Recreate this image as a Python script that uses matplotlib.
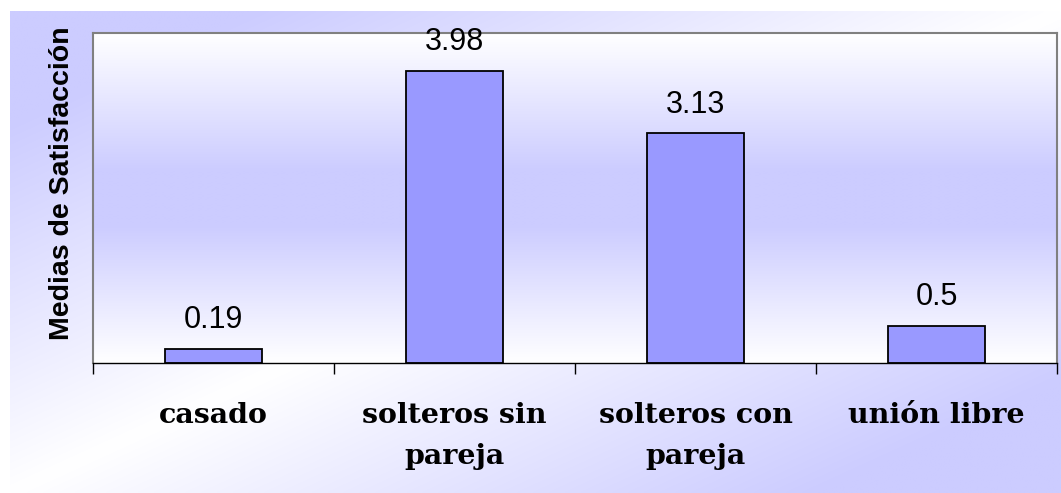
import numpy as np
import matplotlib
matplotlib.use("Agg")
import matplotlib.pyplot as plt
from matplotlib.colors import to_rgb

# ---------------------------------------------------------------------------
# Data
# ---------------------------------------------------------------------------
categories = ["casado", "solteros sin\npareja", "solteros con\npareja", "unión libre"]
values = [0.19, 3.98, 3.13, 0.5]
value_labels = ["0.19", "3.98", "3.13", "0.5"]
y_label = "Medias de Satisfacción"

LAVENDER = np.array(to_rgb("#ccccff"))
WHITE = np.array([1.0, 1.0, 1.0])
BAR_COLOR = "#9999ff"

W, H = 1061, 493
fig = plt.figure(figsize=(W / 100, H / 100), dpi=100)

# outer chart area: diagonal gradient, lavender at the two corners, white across
bg = fig.add_axes([10 / W, 0, 1 - 10 / W, (H - 11) / H], zorder=-10)
xx, yy = np.meshgrid(np.linspace(0, 1, 400), np.linspace(0, 1, 200))
t = np.clip(np.abs(xx + yy - 1.0) * 1.3, 0, 1)[..., None]
bg.imshow(WHITE * (1 - t) + LAVENDER * t, aspect="auto", interpolation="bilinear",
          extent=[0, 1, 1, 0])
bg.set_axis_off()

# plot area
left, right, top, bottom = 93, 1057, 33, 363
ax = fig.add_axes([left / W, 1 - bottom / H, (right - left) / W, (bottom - top) / H])
ax.set_xlim(0, len(categories))
ax.set_ylim(0, 4.5)

v = np.linspace(0, 1, 300)[:, None]
tv = np.clip((1 - np.abs(2 * v - 1)) * 1.2, 0, 1)[..., None] * np.ones((1, 2, 1))
ax.imshow(WHITE * (1 - tv) + LAVENDER * tv, aspect="auto", interpolation="bilinear",
          extent=[0, len(categories), 0, 4.5], zorder=0)

x = np.arange(len(categories)) + 0.5
ax.bar(x, values, width=0.4, color=BAR_COLOR, edgecolor="black", linewidth=1.3, zorder=2)
for xi, val, lab in zip(x, values, value_labels):
    ax.annotate(lab, (xi, val), xytext=(0, 10), textcoords="offset points",
                ha="center", va="bottom", fontsize=22, family="Liberation Sans",
                zorder=3)

for side in ("left", "top", "right"):
    ax.spines[side].set_color("#808080")
    ax.spines[side].set_linewidth(1.5)
ax.spines["bottom"].set_color("black")
ax.spines["bottom"].set_linewidth(1.0)

ax.set_yticks([])
ax.set_xticks(np.arange(len(categories) + 1))
ax.set_xticklabels([])
ax.tick_params(axis="x", length=8, width=1, color="black", direction="out")
ax.set_xticks(x, minor=True)
ax.set_xticklabels(categories, minor=True, fontsize=20.5, fontweight="bold",
                   family="DejaVu Serif", linespacing=1.65)
ax.tick_params(axis="x", which="minor", length=0, pad=28)

fig.text(62 / W, 1 - 183 / H, y_label, rotation=90, ha="center", va="center",
         fontsize=20.5, fontweight="bold", family="Liberation Sans")

fig.savefig("out.png", dpi=100)
